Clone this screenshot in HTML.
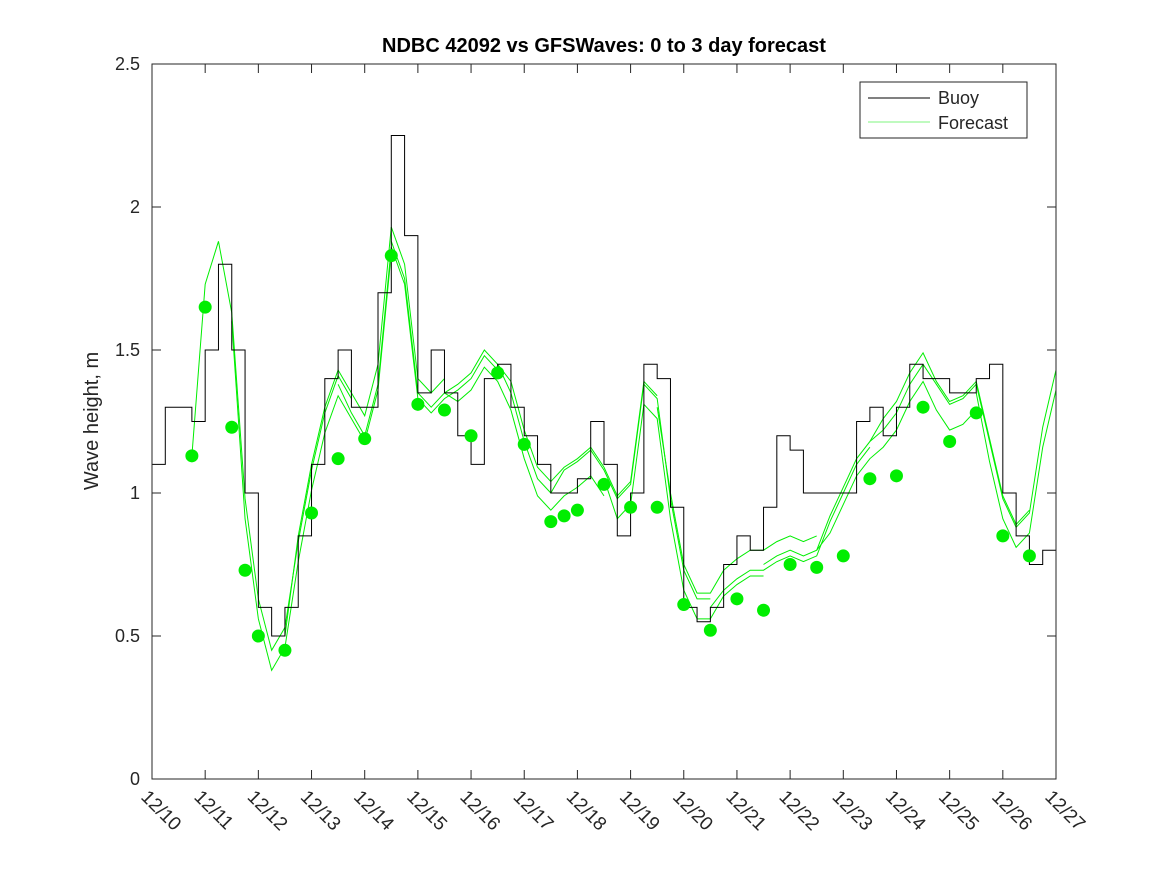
<!DOCTYPE html>
<html><head><meta charset="utf-8"><style>
body{margin:0;background:#fff;font-family:"Liberation Sans",sans-serif}
</style></head><body>
<svg id="chart" width="1167" height="875" xmlns="http://www.w3.org/2000/svg" font-family="Liberation Sans, sans-serif">
<defs><clipPath id="clip"><rect x="152" y="64" width="904" height="715"/></clipPath></defs>
<rect width="1167" height="875" fill="#fff"/>
<text x="604" y="52" text-anchor="middle" font-size="20" font-weight="bold">NDBC 42092 vs GFSWaves: 0 to 3 day forecast</text>
<text transform="translate(98,421) rotate(-90)" text-anchor="middle" font-size="20" fill="#262626">Wave height, m</text>
<g id="axes"></g>
<g id="series" clip-path="url(#clip)"></g>
<rect x="152" y="64" width="904" height="715" fill="none" stroke="#262626" stroke-width="1"/>
<g>
<rect x="860" y="82" width="167" height="56" fill="#fff" stroke="#262626"/>
<line x1="868" y1="98" x2="930" y2="98" stroke="#000"/>
<text x="938" y="104" font-size="18" fill="#262626">Buoy</text>
<line x1="868" y1="122" x2="930" y2="122" stroke="#00ee00" stroke-width="0.6"/>
<text x="938" y="129" font-size="18" fill="#262626">Forecast</text>
</g>
</svg>
<script>
const xTickLabels=["12/10","12/11","12/12","12/13","12/14","12/15","12/16","12/17","12/18","12/19","12/20","12/21","12/22","12/23","12/24","12/25","12/26","12/27"];
const yTicks=[0,0.5,1,1.5,2,2.5];
const yTickLabels=["0","0.5","1","1.5","2","2.5"];
// buoy values every 0.25 day starting 12/10 00:00
const buoyVals=[1.1,1.3,1.3,1.25,1.5,1.8,1.5,1.0,0.6,0.5,0.6,0.85,1.1,1.4,1.5,1.3,1.3,1.7,2.25,1.9,1.35,1.5,1.35,1.2,1.1,1.4,1.45,1.3,1.2,1.1,1.0,1.0,1.05,1.25,1.1,0.85,1.0,1.45,1.4,0.95,0.6,0.55,0.6,0.75,0.85,0.8,0.95,1.2,1.15,1.0,1.0,1.0,1.0,1.25,1.3,1.2,1.3,1.45,1.4,1.4,1.35,1.35,1.4,1.45,1.0,0.85,0.75,0.8];
// consensus forecast every 0.25 day starting day 0.75
const fcStart=0.75;
const fcVals=[1.13,1.7,1.85,1.6,0.95,0.6,0.42,0.5,0.8,1.05,1.25,1.38,1.3,1.22,1.4,1.88,1.75,1.35,1.3,1.35,1.38,1.42,1.5,1.45,1.35,1.18,1.05,1.0,1.05,1.08,1.12,1.05,0.95,1.0,1.35,1.3,0.95,0.7,0.6,0.6,0.68,0.72,0.75,0.75,0.78,0.8,0.78,0.8,0.92,1.02,1.12,1.18,1.22,1.28,1.38,1.45,1.35,1.28,1.3,1.35,1.15,0.95,0.85,0.9,1.2,1.4,1.45];
const dotDays=[0.75,1,1.5,1.75,2,2.5,3,3.5,4,4.5,5,5.5,6,6.5,7,7.5,7.75,8,8.5,9,9.5,10,10.5,11,11.5,12,12.5,13,13.5,14,14.5,15,15.5,16,16.5];
const dotVals=[1.13,1.65,1.23,0.73,0.5,0.45,0.93,1.12,1.19,1.83,1.31,1.29,1.2,1.42,1.17,0.9,0.92,0.94,1.03,0.95,0.95,0.61,0.52,0.63,0.59,0.75,0.74,0.78,1.05,1.06,1.30,1.18,1.28,0.85,0.78];
const fcOffsets=[0.03,-0.04,0.05,-0.02,0.0,-0.06,0.04];
const fcLineStarts=[0.75,1.5,2.5,3.5,4.5,5.5,6.5,7.5,8.5,9.5,10.5,11.5,12.5,13.5,14.5,15.5];

const X=d=>152+d*904/17, Y=v=>779-v*286;
const NS="http://www.w3.org/2000/svg";
const axes=document.getElementById('axes'), ser=document.getElementById('series');
function mk(t,p,a){const e=document.createElementNS(NS,t);for(const k in a)e.setAttribute(k,a[k]);p.appendChild(e);return e;}
yTicks.forEach((v,i)=>{
 const t=mk('path',axes,{d:`M152 ${Y(v)}h9M1056 ${Y(v)}h-9`,stroke:'#262626'});
 
 
 const l=mk('text',axes,{x:140,y:Y(v)+6,'text-anchor':'end','font-size':18,fill:'#262626'});
 l.textContent=yTickLabels[i];
 
 
});
xTickLabels.forEach((s,i)=>{
 const x=X(i);
 const t=mk('path',axes,{d:`M${x} 779v-9M${x} 64v9`,stroke:'#262626'});
 
 
 const l=mk('text',axes,{transform:`translate(${x-12},${798}) rotate(45)`,'font-size':19,fill:'#262626'});
 l.textContent=s;
 
 
});
fcLineStarts.forEach((s,j)=>{
 const i0=Math.round((s-fcStart)/0.25);
 const off=fcOffsets[j%fcOffsets.length];
 const pts=[];
 for(let i=i0;i<Math.min(fcVals.length,i0+13);i++){pts.push(X(fcStart+i*0.25)+','+Y(fcVals[i]+off*(i===i0?0:1)));}
 const p=mk('polyline',ser,{points:pts.join(' '),fill:'none',stroke:'#00ee00','stroke-width':1});
 
 
});
let d='';
buoyVals.forEach((v,i)=>{const x0=X(i*0.25),x1=X((i+1)*0.25);d+=(i?'L':'M')+x0+' '+Y(v)+'L'+x1+' '+Y(v);});
const b=mk('path',ser,{d:d,fill:'none',stroke:'#000','stroke-width':1});


dotDays.forEach((dd,i)=>{
 const c=mk('circle',ser,{cx:X(dd),cy:Y(dotVals[i]),r:6.5,fill:'#00ee00'});
 
 
});
</script>
</body></html>
